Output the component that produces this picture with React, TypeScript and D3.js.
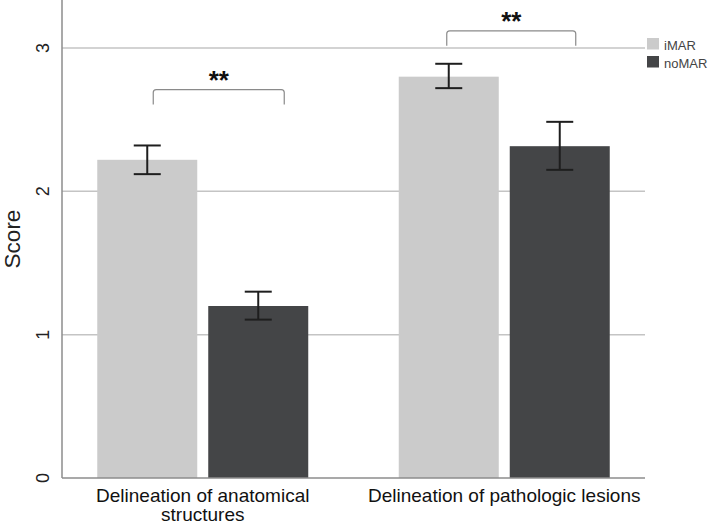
import React from "react";
import * as d3 from "d3";

const groups = ["anatomical", "pathologic"];
const groupLabels = [["Delineation of anatomical", "structures"], ["Delineation of pathologic lesions"]];
const series = ["iMAR", "noMAR"];
const iMARMean = [2.22, 2.8];
const iMARLow = [2.12, 2.72];
const iMARHigh = [2.32, 2.89];
const noMARMean = [1.2, 2.315];
const noMARLow = [1.105, 2.15];
const noMARHigh = [1.3, 2.485];
const yTicks = [0, 1, 2, 3];
const sigLabels = ["**", "**"];
const sigLevel = [2.71, 3.12];

const W = 708, H = 524;
const axisX = 62, axisRight = 645, axisBottom = 478;
const colors: Record<string, string> = { iMAR: "#cbcbcb", noMAR: "#444547" };
const bracketDx = [[6, 26], [-2, 16]];

export default function App() {
  const y = d3.scaleLinear().domain([0, 3.335]).range([axisBottom, 0]);
  const x0 = d3.scaleBand<string>().domain(groups).range([52, 655]);
  const x1 = d3.scaleBand<string>().domain(series).range([0, 211]).paddingInner(0.099);
  const groupStart = (g: string) => x0(g)! + x0.bandwidth() / 2 - 105.5;
  const data = [
    { s: "iMAR", mean: iMARMean, lo: iMARLow, hi: iMARHigh },
    { s: "noMAR", mean: noMARMean, lo: noMARLow, hi: noMARHigh },
  ];
  const font = "Liberation Sans, Arial, sans-serif";
  return (
    <svg width={W} height={H} style={{ position: "absolute", left: 0, top: 0, background: "#fff" }} fontFamily={font}>
      {yTicks.filter((t) => t > 0).map((t) => (
        <line key={t} x1={axisX} x2={axisRight} y1={y(t)} y2={y(t)} stroke="#c4c4c4" strokeWidth={1.5} />
      ))}
      {data.map((d) =>
        groups.map((g, i) => {
          const bx = groupStart(g) + x1(d.s)!;
          return (
            <rect key={d.s + g} x={bx} y={y(d.mean[i])} width={x1.bandwidth()} height={axisBottom - y(d.mean[i])} fill={colors[d.s]} />
          );
        })
      )}
      {data.map((d) =>
        groups.map((g, i) => {
          const cx = groupStart(g) + x1(d.s)! + x1.bandwidth() / 2;
          return (
            <g key={"e" + d.s + g} stroke="#1e1e1e" strokeWidth={2}>
              <line x1={cx} x2={cx} y1={y(d.hi[i])} y2={y(d.lo[i])} />
              <line x1={cx - 13.5} x2={cx + 13.5} y1={y(d.hi[i])} y2={y(d.hi[i])} />
              <line x1={cx - 13.5} x2={cx + 13.5} y1={y(d.lo[i])} y2={y(d.lo[i])} />
            </g>
          );
        })
      )}
      <line x1={axisX} x2={axisX} y1={0} y2={axisBottom} stroke="#8c8c8c" strokeWidth={1.5} />
      <line x1={axisX} x2={axisRight} y1={axisBottom} y2={axisBottom} stroke="#8c8c8c" strokeWidth={1.5} />
      {yTicks.map((t) => (
        <text key={t} transform={`translate(49,${y(t)}) rotate(-90)`} textAnchor="middle" fontSize={18} fill="#222">
          {t}
        </text>
      ))}
      <text transform={`translate(19.5,${239}) rotate(-90)`} textAnchor="middle" fontSize={22.5} fill="#222">
        Score
      </text>
      {groups.map((g, i) => {
        const cx = x0(g)! + x0.bandwidth() / 2;
        return (
          <text key={g} x={cx} y={502} textAnchor="middle" fontSize={19} fill="#111">
            {groupLabels[i].map((l, j) => (
              <tspan key={j} x={cx} dy={j === 0 ? 0 : 18.5}>
                {l}
              </tspan>
            ))}
          </text>
        );
      })}
      {groups.map((g, i) => {
        const l = groupStart(g) + x1("iMAR")! + x1.bandwidth() / 2 + bracketDx[i][0];
        const r = groupStart(g) + x1("noMAR")! + x1.bandwidth() / 2 + bracketDx[i][1];
        const top = y(sigLevel[i]);
        const bot = top + 15;
        return (
          <g key={"b" + g}>
            <path
              d={`M${l},${bot} V${top + 3} Q${l},${top} ${l + 3},${top} H${r - 3} Q${r},${top} ${r},${top + 3} V${bot}`}
              fill="none"
              stroke="#8a8a8a"
              strokeWidth={1.2}
            />
            <text x={(l + r) / 2} y={top - 1} textAnchor="middle" fontSize={26} fontWeight="bold" fill="#111">
              {sigLabels[i]}
            </text>
          </g>
        );
      })}
      {series.map((s, i) => (
        <g key={s}>
          <rect x={647} y={38 + i * 18} width={12} height={11.5} fill={colors[s]} />
          <text x={664} y={50 + i * 18} fontSize={13} fill="#444">
            {s}
          </text>
        </g>
      ))}
    </svg>
  );
}
